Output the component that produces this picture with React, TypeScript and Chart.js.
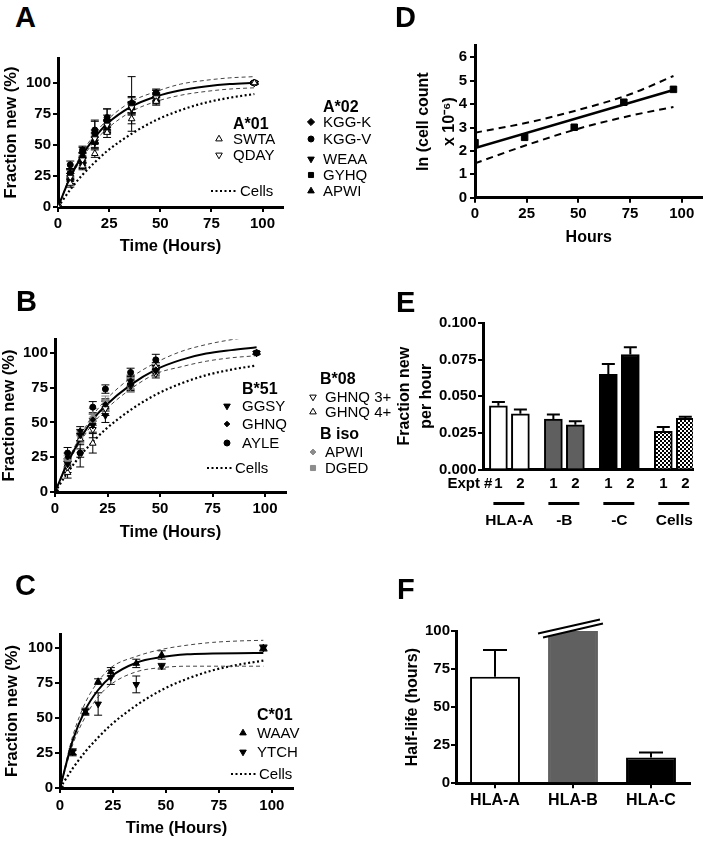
import React, { useEffect, useRef } from 'react';
import { Chart, registerables } from 'chart.js';

Chart.register(...registerables);

const FONT = "'Liberation Sans', Arial, Helvetica, sans-serif";

// ================= DATA =================
// Panels A–C: fraction new (%) vs time (hours)
const TIMES = [0, 6, 12, 18, 24, 36, 48, 96];
const FIT_TIMES = [0, 6, 12, 18, 24, 36, 48, 60, 72, 84, 96];
const CELLS_LABEL = 'Cells';
const CELLS_CURVE = [0, 14, 26, 36, 45, 59, 70, 78, 84, 88, 91];
const TIME_TICKS = [0, 25, 50, 75, 100];
const FRACTION_TICKS = [0, 25, 50, 75, 100];

// A
const A_SWTA = [0, 19, 33, 43, 60, 71, 85, 100];
const A_SWTA_ERR = [0, 3, 3, 3, 4, 4, 3, 1];
const A_QDAY = [0, 24, 38, 55, 66, 80, 88, 100];
const A_QDAY_ERR = [0, 3, 3, 4, 4, 4, 3, 1];
const A_KGGK = [0, 27, 44, 60, 70, 84, 91, 100];
const A_KGGK_ERR = [0, 3, 4, 9, 9, 5, 3, 1];
const A_KGGV = [0, 34, 46, 62, 72, 82, 92, 100];
const A_KGGV_ERR = [0, 3, 3, 8, 7, 6, 3, 1];
const A_WEAA = [0, 26, 36, 52, 65, 79, 88, 100];
const A_WEAA_ERR = [0, 4, 4, 5, 5, 5, 4, 1];
const A_GYHQ = [0, 27, 40, 57, 68, 83, 90, 100];
const A_GYHQ_ERR = [0, 4, 4, 5, 6, 22, 4, 1];
const A_APWI = [0, 22, 35, 52, 64, 80, 87, 100];
const A_APWI_ERR = [0, 3, 4, 4, 5, 5, 4, 1];
const A_FIT = [0, 24, 42, 56, 67, 81, 89, 94, 97, 99, 100];
const A_FIT_HI = [0, 25, 44, 59, 70, 85, 93, 99, 102, 104, 105];
const A_FIT_LO = [0, 23, 40, 53, 63, 77, 85, 90, 93, 95, 96];

// B
const B_GGSY = [0, 20, 41, 48, 55, 77, 87, 100];
const B_GGSY_ERR = [0, 3, 4, 5, 5, 4, 3, 1];
const B_GHNQ = [0, 25, 44, 52, 63, 80, 88, 100];
const B_GHNQ_ERR = [0, 3, 3, 4, 4, 4, 3, 1];
const B_AYLE = [0, 28, 28, 61, 74, 86, 95, 100];
const B_AYLE_ERR = [0, 4, 3, 4, 3, 3, 4, 1];
const B_GHNQ3 = [0, 18, 27, 45, 60, 76, 85, 100];
const B_GHNQ3_ERR = [0, 4, 9, 6, 5, 4, 3, 1];
const B_GHNQ4 = [0, 14, 38, 35, 62, 78, 90, 100];
const B_GHNQ4_ERR = [0, 4, 4, 7, 4, 4, 3, 1];
const B_APWI = [0, 23, 40, 54, 65, 78, 89, 100];
const B_APWI_ERR = [0, 3, 4, 6, 4, 4, 3, 1];
const B_DGED = [0, 21, 39, 51, 62, 76, 86, 100];
const B_DGED_ERR = [0, 3, 4, 5, 4, 4, 3, 1];
const B_FIT = [0, 21, 38, 52, 62, 77, 88, 95, 99.5, 102, 104];
const B_FIT_HI = [0, 22, 40, 55, 66, 82, 93, 101, 106, 109.5, 112];
const B_FIT_LO = [0, 20, 36, 49, 59, 74, 85, 90, 94, 96.5, 98];

// C
const C_WAAV = [0, 25, 54, 76, 83, 89, 95, 100];
const C_WAAV_ERR = [0, 2, 2, 2, 3, 3, 3, 2];
const C_YTCH = [0, 26, 55, 60, 79, 74, 87, 100];
const C_YTCH_ERR = [0, 2, 2, 8, 5, 6, 2, 2];
const C_FIT = [0, 34, 56, 70, 79.5, 89.5, 93.5, 95.5, 96, 96.3, 96.5];
const C_FIT_HI = [0, 37, 61, 76, 86, 94, 99, 102, 104, 105, 105.5];
const C_FIT_LO = [0, 31, 51, 65, 74, 83, 86, 87, 87, 87, 87];

// D: ln(cell count x 10^-6) vs hours
const D_HOURS = [0, 24, 48, 72, 96];
const D_LN = [2.35, 2.58, 3.01, 4.08, 4.63];
const D_FIT_HOURS = [0, 96];
const D_FIT = [2.12, 4.6];
const D_BAND_HOURS = [0, 25, 50, 75, 96];
const D_BAND_HI = [2.78, 3.2, 3.75, 4.42, 5.2];
const D_BAND_LO = [1.47, 2.25, 2.95, 3.5, 3.88];
const D_X_TICKS = [0, 25, 50, 75, 100];
const D_Y_TICKS = [0, 1, 2, 3, 4, 5, 6];

// E: fraction new per hour
const E_EXPT = ['1', '2', '1', '2', '1', '2', '1', '2'];
const E_GROUPS = ['HLA-A', '-B', '-C', 'Cells'];
const E_RATE = [0.0435, 0.038, 0.0345, 0.0305, 0.065, 0.0785, 0.026, 0.035];
const E_RATE_ERR = [0.0025, 0.003, 0.003, 0.0025, 0.007, 0.005, 0.003, 0.001];
const E_Y_TICKS = [0, 0.025, 0.05, 0.075, 0.1];
const E_AXIS_LABEL = 'Expt #';

// F: half-life (hours)
const F_LABELS = ['HLA-A', 'HLA-B', 'HLA-C'];
const F_HALF_LIFE = [70, 100, 17];
const F_HALF_LIFE_ERR = [17.5, 0, 3.2];
const F_OFF_SCALE = [false, true, false];
const F_Y_TICKS = [0, 25, 50, 75, 100];

// ================= STYLE / LAYOUT =================
type Mk = { style: string; rot: number; fill: string; stroke: string; r: number };
const GRAY = '#8c8c8c';
const MK: Record<string, Mk> = {
  upOpen: { style: 'triangle', rot: 0, fill: '#ffffff', stroke: '#000000', r: 3.8 },
  downOpen: { style: 'triangle', rot: 180, fill: '#ffffff', stroke: '#000000', r: 3.8 },
  up: { style: 'triangle', rot: 0, fill: '#000000', stroke: '#000000', r: 3.8 },
  down: { style: 'triangle', rot: 180, fill: '#000000', stroke: '#000000', r: 3.8 },
  diamond: { style: 'rectRot', rot: 0, fill: '#000000', stroke: '#000000', r: 3.6 },
  smallDiamond: { style: 'rectRot', rot: 0, fill: '#000000', stroke: '#000000', r: 2.8 },
  circle: { style: 'circle', rot: 0, fill: '#000000', stroke: '#000000', r: 3 },
  square: { style: 'rect', rot: 0, fill: '#000000', stroke: '#000000', r: 3.6 },
  grayDiamond: { style: 'rectRot', rot: 0, fill: GRAY, stroke: GRAY, r: 3 },
  graySquare: { style: 'rect', rot: 0, fill: GRAY, stroke: GRAY, r: 3.6 },
};

type Series = { name: string; values: number[]; errors: number[]; mk: Mk };
const A_SERIES_01: Series[] = [
  { name: 'SWTA', values: A_SWTA, errors: A_SWTA_ERR, mk: MK.upOpen },
  { name: 'QDAY', values: A_QDAY, errors: A_QDAY_ERR, mk: MK.downOpen },
];
const A_SERIES_02: Series[] = [
  { name: 'KGG-K', values: A_KGGK, errors: A_KGGK_ERR, mk: MK.diamond },
  { name: 'KGG-V', values: A_KGGV, errors: A_KGGV_ERR, mk: MK.circle },
  { name: 'WEAA', values: A_WEAA, errors: A_WEAA_ERR, mk: MK.down },
  { name: 'GYHQ', values: A_GYHQ, errors: A_GYHQ_ERR, mk: MK.square },
  { name: 'APWI', values: A_APWI, errors: A_APWI_ERR, mk: MK.up },
];
const B_SERIES_51: Series[] = [
  { name: 'GGSY', values: B_GGSY, errors: B_GGSY_ERR, mk: MK.down },
  { name: 'GHNQ', values: B_GHNQ, errors: B_GHNQ_ERR, mk: MK.smallDiamond },
  { name: 'AYLE', values: B_AYLE, errors: B_AYLE_ERR, mk: MK.circle },
];
const B_SERIES_08: Series[] = [
  { name: 'GHNQ 3+', values: B_GHNQ3, errors: B_GHNQ3_ERR, mk: MK.downOpen },
  { name: 'GHNQ 4+', values: B_GHNQ4, errors: B_GHNQ4_ERR, mk: MK.upOpen },
];
const B_SERIES_ISO: Series[] = [
  { name: 'APWI', values: B_APWI, errors: B_APWI_ERR, mk: MK.grayDiamond },
  { name: 'DGED', values: B_DGED, errors: B_DGED_ERR, mk: MK.graySquare },
];
const C_SERIES: Series[] = [
  { name: 'WAAV', values: C_WAAV, errors: C_WAAV_ERR, mk: MK.up },
  { name: 'YTCH', values: C_YTCH, errors: C_YTCH_ERR, mk: MK.down },
];

type LegendGroup = { title: string; series: Series[]; titleX: number; titleY: number; markerX: number; textX: number; rowYs: number[] };
type CellsKey = { x1: number; x2: number; y: number; textX: number };

const A_LEGEND: LegendGroup[] = [
  { title: 'A*01', series: A_SERIES_01, titleX: 233, titleY: 123, markerX: 219, textX: 233, rowYs: [139, 155] },
  { title: 'A*02', series: A_SERIES_02, titleX: 323, titleY: 106, markerX: 311, textX: 323, rowYs: [122, 139, 159, 175, 191] },
];
const A_CELLS_KEY: CellsKey = { x1: 211, x2: 237, y: 191, textX: 240 };
const B_LEGEND: LegendGroup[] = [
  { title: 'B*51', series: B_SERIES_51, titleX: 242, titleY: 388, markerX: 227, textX: 242, rowYs: [406, 424, 443] },
  { title: 'B*08', series: B_SERIES_08, titleX: 320, titleY: 378, markerX: 313, textX: 325, rowYs: [397, 412] },
  { title: 'B iso', series: B_SERIES_ISO, titleX: 320, titleY: 433, markerX: 313, textX: 325, rowYs: [452, 468] },
];
const B_CELLS_KEY: CellsKey = { x1: 207, x2: 233, y: 468, textX: 235 };
const C_LEGEND: LegendGroup[] = [
  { title: 'C*01', series: C_SERIES, titleX: 257, titleY: 714, markerX: 243, textX: 257, rowYs: [733, 752] },
];
const C_CELLS_KEY: CellsKey = { x1: 231, x2: 257, y: 774, textX: 259 };

// canvas boxes (x,y,w,h) and chart areas (L,T,R,B), page coordinates
type Geo = { x: number; y: number; w: number; h: number; L: number; T: number; R: number; B: number };
const GEO: Record<string, Geo> = {
  A: { x: 0, y: 40, w: 380, h: 225, L: 58, T: 58, R: 283, B: 207 },
  B: { x: 0, y: 320, w: 380, h: 225, L: 55, T: 339, R: 286, B: 492 },
  C: { x: 0, y: 615, w: 310, h: 226, L: 60, T: 634, R: 293, B: 788 },
  D: { x: 380, y: 30, w: 328, h: 225, L: 475, T: 45.6, R: 703, B: 197.7 },
  E: { x: 380, y: 300, w: 328, h: 245, L: 483, T: 323, R: 693, B: 469.5 },
  F: { x: 380, y: 600, w: 328, h: 241, L: 456, T: 631, R: 690, B: 783.3 },
};
const E_SLOTS = [0, 2, 5, 7, 10, 12, 15, 17];
const E_FILLS = ['#ffffff', '#ffffff', '#5f5f5f', '#5f5f5f', '#000000', '#000000', 'checker', 'checker'];
const F_FILLS = ['#ffffff', '#606060', '#000000'];
const F_BORDERS = ['#000000', '#606060', '#000000'];
const TICK_SIZE = 15;

const PANEL_LETTERS = [
  { t: 'A', x: 15, y: 17.5 },
  { t: 'B', x: 16, y: 301 },
  { t: 'C', x: 15, y: 585 },
  { t: 'D', x: 395, y: 17 },
  { t: 'E', x: 396, y: 302 },
  { t: 'F', x: 397, y: 589 },
];

// ================= HELPERS =================
function drawMarker(ctx: any, mk: Mk, x: number, y: number) {
  ctx.save();
  ctx.translate(x, y);
  ctx.rotate((mk.rot * Math.PI) / 180);
  ctx.beginPath();
  const r = mk.r;
  if (mk.style === 'triangle') {
    ctx.moveTo(0, -r);
    ctx.lineTo(r * 0.866, r * 0.5);
    ctx.lineTo(-r * 0.866, r * 0.5);
    ctx.closePath();
  } else if (mk.style === 'rect') {
    const s = r * Math.SQRT1_2;
    ctx.rect(-s, -s, 2 * s, 2 * s);
  } else if (mk.style === 'rectRot') {
    ctx.moveTo(0, -r);
    ctx.lineTo(r, 0);
    ctx.lineTo(0, r);
    ctx.lineTo(-r, 0);
    ctx.closePath();
  } else {
    ctx.arc(0, 0, r, 0, Math.PI * 2);
  }
  ctx.fillStyle = mk.fill;
  ctx.fill();
  ctx.lineWidth = 1;
  ctx.strokeStyle = mk.stroke;
  ctx.stroke();
  ctx.restore();
}

function baseOptions(g: Geo) {
  return {
    responsive: false,
    maintainAspectRatio: false,
    animation: false,
    events: [],
    layout: { padding: { left: 0, top: g.T - g.y, right: g.x + g.w - g.R, bottom: 0 } },
    plugins: { legend: { display: false }, tooltip: { enabled: false }, title: { display: false } },
  };
}

function valueAxis(o: any) {
  const showTicks = o.showTicks !== false;
  return {
    type: 'linear',
    min: o.min,
    max: o.max,
    offset: false,
    afterFit: (s: any) => {
      if (o.horizontal) s.height = o.size;
      else s.width = o.size;
    },
    afterBuildTicks: (s: any) => {
      s.ticks = o.ticks.map((v: number) => ({ value: v }));
    },
    ticks: {
      color: '#000',
      font: { family: FONT, size: o.labelSize || TICK_SIZE, weight: 'bold' },
      padding: o.labelPad ?? 2,
      autoSkip: false,
      maxRotation: 0,
      minRotation: 0,
      callback: (v: any, i: number) => (o.fmt ? o.fmt(v, i) : String(v)),
    },
    grid: {
      display: showTicks,
      drawOnChartArea: false,
      drawTicks: showTicks,
      tickLength: showTicks ? 5 : 0,
      lineWidth: 2,
      color: '#000',
      offset: false,
    },
    border: { display: true, color: '#000', width: 3 },
    title: o.title
      ? {
          display: true,
          text: o.title,
          color: '#000',
          font: { family: FONT, size: o.titleSize || 16, weight: 'bold', lineHeight: o.titleLH || 1.2 },
          padding: o.horizontal ? { top: 0, bottom: o.titlePad || 0 } : { top: o.titlePad || 0, bottom: 0 },
        }
      : { display: false },
  };
}

const scatterErrorPlugin = {
  id: 'scatterErr',
  beforeDatasetsDraw(chart: any) {
    const ctx = chart.ctx;
    const ys = chart.scales.y;
    chart.data.datasets.forEach((ds: any, di: number) => {
      if (!ds.errorBars) return;
      const meta = chart.getDatasetMeta(di);
      ctx.save();
      ctx.strokeStyle = ds.errorColor || '#000';
      ctx.lineWidth = 1;
      meta.data.forEach((pt: any, i: number) => {
        const e = ds.errorBars[i];
        if (!e) return;
        const v = ds.data[i].y;
        const top = ys.getPixelForValue(v + e);
        const bot = ys.getPixelForValue(v - e);
        ctx.beginPath();
        ctx.moveTo(pt.x, top);
        ctx.lineTo(pt.x, bot);
        ctx.moveTo(pt.x - 4, top);
        ctx.lineTo(pt.x + 4, top);
        ctx.moveTo(pt.x - 4, bot);
        ctx.lineTo(pt.x + 4, bot);
        ctx.stroke();
      });
      ctx.restore();
    });
  },
};

const barErrorPlugin = {
  id: 'barErr',
  afterDatasetsDraw(chart: any) {
    const ctx = chart.ctx;
    const ys = chart.scales.y;
    chart.data.datasets.forEach((ds: any, di: number) => {
      if (!ds.errorBars) return;
      const meta = chart.getDatasetMeta(di);
      ctx.save();
      ctx.strokeStyle = '#000';
      ctx.lineWidth = 2;
      meta.data.forEach((bar: any, i: number) => {
        const e = ds.errorBars[i];
        if (!e) return;
        const raw = ds.data[i];
        const v = typeof raw === 'number' ? raw : raw.y;
        const top = ys.getPixelForValue(v + e);
        const half = (ds.errorCap || 12) / 2;
        ctx.beginPath();
        ctx.moveTo(bar.x, bar.y);
        ctx.lineTo(bar.x, top);
        ctx.moveTo(bar.x - half, top);
        ctx.lineTo(bar.x + half, top);
        ctx.stroke();
      });
      ctx.restore();
    });
  },
};

function legendMarkerPlugin(g: Geo, groups: LegendGroup[], cells: CellsKey) {
  return {
    id: 'legendMarks',
    afterDraw(chart: any) {
      const ctx = chart.ctx;
      groups.forEach((grp) =>
        grp.series.forEach((s, i) => drawMarker(ctx, s.mk, grp.markerX - g.x, grp.rowYs[i] - g.y)),
      );
      ctx.save();
      ctx.strokeStyle = '#000';
      ctx.lineWidth = 2.2;
      ctx.setLineDash([2, 2.5]);
      ctx.beginPath();
      ctx.moveTo(cells.x1 - g.x, cells.y - g.y);
      ctx.lineTo(cells.x2 - g.x, cells.y - g.y);
      ctx.stroke();
      ctx.restore();
    },
  };
}

function pointDataset(s: Series) {
  return {
    label: s.name,
    data: TIMES.map((x, i) => ({ x, y: s.values[i] })),
    showLine: false,
    pointStyle: s.mk.style,
    pointRotation: s.mk.rot,
    pointRadius: s.mk.r,
    pointBackgroundColor: s.mk.fill,
    pointBorderColor: s.mk.stroke,
    pointBorderWidth: 1,
    errorBars: s.errors,
    errorColor: s.mk.stroke,
  };
}

function curveDataset(xs: number[], ys: number[], kind: string) {
  const style =
    kind === 'fit'
      ? { borderColor: '#000', borderWidth: 2, borderDash: [] }
      : kind === 'band'
      ? { borderColor: '#444', borderWidth: 1, borderDash: [4, 3] }
      : { borderColor: '#000', borderWidth: 2.2, borderDash: [2, 2.5] };
  return {
    data: xs.map((x, i) => ({ x, y: ys[i] })),
    showLine: true,
    pointRadius: 0,
    fill: false,
    cubicInterpolationMode: 'monotone',
    ...style,
  };
}

function timeCourseConfig(
  g: Geo,
  yMax: number,
  groups: LegendGroup[],
  cells: CellsKey,
  fit: number[],
  hi: number[],
  lo: number[],
  yTitlePad: number,
  xTitlePad: number,
  xLabelPad: number,
) {
  const series = groups.flatMap((grp) => grp.series);
  return {
    type: 'scatter',
    data: {
      datasets: [
        ...series.map(pointDataset),
        curveDataset(FIT_TIMES, fit, 'fit'),
        curveDataset(FIT_TIMES, hi, 'band'),
        curveDataset(FIT_TIMES, lo, 'band'),
        curveDataset(FIT_TIMES, CELLS_CURVE, 'cells'),
      ],
    },
    options: {
      ...baseOptions(g),
      scales: {
        x: valueAxis({ horizontal: true, size: g.y + g.h - g.B, min: 0, max: 110, ticks: TIME_TICKS, title: 'Time (Hours)', titleSize: 16.5, titlePad: xTitlePad, labelPad: xLabelPad }),
        y: valueAxis({ horizontal: false, size: g.L - g.x, min: 0, max: yMax, ticks: FRACTION_TICKS, title: 'Fraction new (%)', titleSize: 16.5, titlePad: yTitlePad, labelPad: 2 }),
      },
    },
    plugins: [scatterErrorPlugin, legendMarkerPlugin(g, groups, cells)],
  };
}

function dConfig() {
  const g = GEO.D;
  const line = (xs: number[], ys: number[]) => xs.map((x, i) => ({ x, y: ys[i] }));
  return {
    type: 'scatter',
    data: {
      datasets: [
        { data: line(D_HOURS, D_LN), showLine: false, pointStyle: 'rect', pointRadius: 4.6, pointBackgroundColor: '#000', pointBorderColor: '#000', pointBorderWidth: 1 },
        { data: line(D_FIT_HOURS, D_FIT), showLine: true, pointRadius: 0, borderColor: '#000', borderWidth: 2.5 },
        { data: line(D_BAND_HOURS, D_BAND_HI), showLine: true, pointRadius: 0, borderColor: '#000', borderWidth: 2, borderDash: [7, 5], cubicInterpolationMode: 'monotone' },
        { data: line(D_BAND_HOURS, D_BAND_LO), showLine: true, pointRadius: 0, borderColor: '#000', borderWidth: 2, borderDash: [7, 5], cubicInterpolationMode: 'monotone' },
      ],
    },
    options: {
      ...baseOptions(g),
      scales: {
        x: valueAxis({ horizontal: true, size: g.y + g.h - g.B, min: 0, max: 110, ticks: D_X_TICKS, title: 'Hours', titlePad: 8, labelPad: 2 }),
        y: valueAxis({ horizontal: false, size: g.L - g.x, min: 0, max: 6.5, ticks: D_Y_TICKS, title: ['ln (cell count', 'x 10\u207B\u2076)'], titlePad: 31, titleLH: 1.6, labelPad: 3 }),
      },
    },
  };
}

function makeChecker(ctx: any) {
  const c = document.createElement('canvas');
  c.width = 4;
  c.height = 4;
  const p = c.getContext('2d') as any;
  p.fillStyle = '#fff';
  p.fillRect(0, 0, 4, 4);
  p.fillStyle = '#000';
  p.fillRect(0, 0, 2, 2);
  p.fillRect(2, 2, 2, 2);
  return ctx.createPattern(c, 'repeat');
}

const eGroupPlugin = {
  id: 'eGroups',
  afterDraw(chart: any) {
    const ctx = chart.ctx;
    const xs = chart.scales.x;
    const bottom = chart.chartArea.bottom;
    ctx.save();
    ctx.fillStyle = '#000';
    ctx.strokeStyle = '#000';
    ctx.lineWidth = 3;
    ctx.font = `bold 15.5px ${FONT}`;
    ctx.textAlign = 'center';
    ctx.textBaseline = 'middle';
    E_GROUPS.forEach((name, gi) => {
      const a = xs.getPixelForValue(E_SLOTS[gi * 2]);
      const b = xs.getPixelForValue(E_SLOTS[gi * 2 + 1]);
      ctx.beginPath();
      ctx.moveTo(a - 5, bottom + 34);
      ctx.lineTo(b + 4, bottom + 34);
      ctx.stroke();
      ctx.fillText(name, (a + b) / 2, bottom + 51);
    });
    ctx.font = `bold 15px ${FONT}`;
    ctx.textAlign = 'right';
    ctx.fillText(E_AXIS_LABEL, xs.getPixelForValue(E_SLOTS[0]) - 6, bottom + 14);
    ctx.restore();
  },
};

function eConfig(ctx: any) {
  const g = GEO.E;
  const pattern = makeChecker(ctx);
  return {
    type: 'bar',
    data: {
      datasets: [
        {
          data: E_RATE.map((v, i) => ({ x: E_SLOTS[i], y: v })),
          backgroundColor: E_FILLS.map((f) => (f === 'checker' ? pattern : f)),
          borderColor: '#000',
          borderWidth: 2,
          borderSkipped: 'bottom',
          barThickness: 18,
          errorBars: E_RATE_ERR,
          errorCap: 13,
        },
      ],
    },
    options: {
      ...baseOptions(g),
      scales: {
        x: valueAxis({ horizontal: true, size: g.y + g.h - g.B, min: -1.4, max: 17.7, ticks: E_SLOTS, fmt: (_v: any, i: number) => E_EXPT[i], showTicks: false, labelPad: 5, labelSize: 15 }),
        y: valueAxis({ horizontal: false, size: g.L - g.x, min: 0, max: 0.1, ticks: E_Y_TICKS, fmt: (v: number) => v.toFixed(3), title: ['Fraction new', 'per hour'], titlePad: 14, titleLH: 1.375, labelPad: 1.5, labelSize: 15 }),
      },
    },
    plugins: [barErrorPlugin, eGroupPlugin],
  };
}

const breakPlugin = {
  id: 'breakMark',
  afterDatasetsDraw(chart: any) {
    const ctx = chart.ctx;
    const meta = chart.getDatasetMeta(0);
    F_OFF_SCALE.forEach((off, i) => {
      if (!off) return;
      const { x, y, width } = meta.data[i].getProps(['x', 'y', 'width'], true);
      const l = x - width / 2;
      const r = x + width / 2;
      ctx.save();
      ctx.fillStyle = '#fff';
      ctx.beginPath();
      ctx.moveTo(l - 10, y + 2.5);
      ctx.lineTo(r + 2, y - 11.5);
      ctx.lineTo(r + 5, y - 7.5);
      ctx.lineTo(l - 5, y + 6.5);
      ctx.closePath();
      ctx.fill();
      ctx.strokeStyle = '#000';
      ctx.lineWidth = 2;
      ctx.beginPath();
      ctx.moveTo(l - 10, y + 2.5);
      ctx.lineTo(r + 2, y - 11.5);
      ctx.moveTo(l - 5, y + 6.5);
      ctx.lineTo(r + 5, y - 7.5);
      ctx.stroke();
      ctx.restore();
    });
  },
};

function fConfig() {
  const g = GEO.F;
  return {
    type: 'bar',
    data: {
      labels: F_LABELS,
      datasets: [
        {
          data: F_HALF_LIFE,
          backgroundColor: F_FILLS,
          borderColor: F_BORDERS,
          borderWidth: 2,
          borderSkipped: 'bottom',
          barPercentage: 0.64,
          categoryPercentage: 1,
          errorBars: F_HALF_LIFE_ERR,
          errorCap: 24,
        },
      ],
    },
    options: {
      ...baseOptions(g),
      scales: {
        x: {
          type: 'category',
          offset: true,
          afterFit: (s: any) => {
            s.height = g.y + g.h - g.B;
          },
          ticks: { color: '#000', font: { family: FONT, size: 16, weight: 'bold' }, padding: 3, autoSkip: false, maxRotation: 0, minRotation: 0 },
          grid: { display: true, drawOnChartArea: false, drawTicks: true, tickLength: 5, lineWidth: 2, color: '#000', offset: false },
          border: { display: true, color: '#000', width: 3 },
        },
        y: valueAxis({ horizontal: false, size: g.L - g.x, min: 0, max: 100, ticks: F_Y_TICKS, title: 'Half-life (hours)', titlePad: 23.4, labelPad: 1, labelSize: 15 }),
      },
    },
    plugins: [barErrorPlugin, breakPlugin],
  };
}

// ================= COMPONENTS =================
function ChartBox({ g, build }: { g: Geo; build: (ctx: any) => any }) {
  const ref = useRef<HTMLCanvasElement>(null);
  useEffect(() => {
    const canvas = ref.current as HTMLCanvasElement;
    const chart = new Chart(canvas, build(canvas.getContext('2d')));
    return () => chart.destroy();
  }, []);
  return (
    <canvas
      ref={ref}
      width={g.w}
      height={g.h}
      style={{ position: 'absolute', left: g.x, top: g.y, width: g.w, height: g.h }}
    />
  );
}

function Txt({ x, y, text, size = 15, bold = false }: { x: number; y: number; text: string; size?: number; bold?: boolean }) {
  const lh = Math.round(size * 1.2);
  return (
    <div
      style={{
        position: 'absolute',
        left: x,
        top: y - lh / 2,
        fontFamily: FONT,
        fontSize: size,
        fontWeight: bold ? 700 : 400,
        lineHeight: lh + 'px',
        whiteSpace: 'nowrap',
        color: '#000',
        zIndex: 2,
      }}
    >
      {text}
    </div>
  );
}

function LegendTexts({ groups, cells }: { groups: LegendGroup[]; cells: CellsKey }) {
  return (
    <>
      {groups.map((grp) => (
        <React.Fragment key={grp.title}>
          <Txt x={grp.titleX} y={grp.titleY} text={grp.title} bold size={16} />
          {grp.series.map((s, i) => (
            <Txt key={s.name + i} x={grp.textX} y={grp.rowYs[i]} text={s.name} />
          ))}
        </React.Fragment>
      ))}
      <Txt x={cells.textX} y={cells.y} text={CELLS_LABEL} />
    </>
  );
}

export default function App() {
  return (
    <div style={{ position: 'absolute', left: 0, top: 0, width: 708, height: 841, background: '#fff', overflow: 'hidden' }}>
      <ChartBox g={GEO.A} build={() => timeCourseConfig(GEO.A, 120, A_LEGEND, A_CELLS_KEY, A_FIT, A_FIT_HI, A_FIT_LO, 2, 9, 3)} />
      <ChartBox g={GEO.B} build={() => timeCourseConfig(GEO.B, 110, B_LEGEND, B_CELLS_KEY, B_FIT, B_FIT_HI, B_FIT_LO, 0, 3, 3)} />
      <ChartBox g={GEO.C} build={() => timeCourseConfig(GEO.C, 110, C_LEGEND, C_CELLS_KEY, C_FIT, C_FIT_HI, C_FIT_LO, 3, 3, 4)} />
      <ChartBox g={GEO.D} build={() => dConfig()} />
      <ChartBox g={GEO.E} build={(ctx) => eConfig(ctx)} />
      <ChartBox g={GEO.F} build={() => fConfig()} />
      <LegendTexts groups={A_LEGEND} cells={A_CELLS_KEY} />
      <LegendTexts groups={B_LEGEND} cells={B_CELLS_KEY} />
      <LegendTexts groups={C_LEGEND} cells={C_CELLS_KEY} />
      {PANEL_LETTERS.map((p) => (
        <Txt key={p.t} x={p.x} y={p.y} text={p.t} size={29} bold />
      ))}
    </div>
  );
}
